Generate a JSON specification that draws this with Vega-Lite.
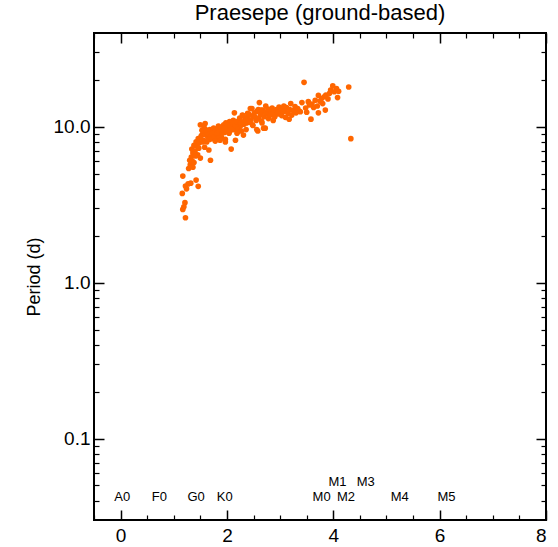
{
  "$schema": "https://vega.github.io/schema/vega-lite/v6.json",
  "width": 452,
  "height": 487,
  "autosize": "none",
  "padding": {"left": 94, "top": 33, "right": 12, "bottom": 27},
  "background": "white",
  "config": {
    "view": {"stroke": "black", "strokeWidth": 2},
    "font": "Liberation Sans",
    "axis": {"grid": false, "domain": false, "tickColor": "black", "labelColor": "black", "titleColor": "black", "labelFont": "Liberation Sans", "titleFont": "Liberation Sans", "titleFontWeight": "normal", "labelFontSize": 19}
  },
  "title": {"text": "Praesepe (ground-based)", "fontSize": 22, "font": "Liberation Sans", "fontWeight": "normal", "color": "black", "offset": 7},
  "datasets": {
    "stars": [
      {"c":1.22,"p":2.61},{"c":1.17,"p":2.95},{"c":1.19,"p":3.07},{"c":1.21,"p":3.26},{"c":1.16,"p":3.74},{"c":1.22,"p":4.17},{"c":1.17,"p":4.83},{"c":1.27,"p":4.3},{"c":1.32,"p":4.35},{"c":1.42,"p":4.55},{"c":1.46,"p":4.15},{"c":1.24,"p":4.0},
      {"c":1.28,"p":5.4},{"c":1.31,"p":5.7},{"c":1.3,"p":6.1},{"c":1.33,"p":6.4},{"c":1.35,"p":6.0},{"c":1.36,"p":6.8},{"c":1.34,"p":7.2},{"c":1.38,"p":7.6},{"c":1.4,"p":7.0},{"c":1.42,"p":8.0},{"c":1.44,"p":7.5},{"c":1.46,"p":8.4},{"c":1.48,"p":7.9},{"c":1.45,"p":6.6},{"c":1.5,"p":10.3},{"c":1.59,"p":10.5},{"c":1.52,"p":8.8},{"c":1.55,"p":9.1},{"c":1.56,"p":8.2},{"c":1.58,"p":7.4},{"c":1.6,"p":8.9},{"c":1.62,"p":9.3},{"c":1.64,"p":8.6},{"c":1.66,"p":7.1},{"c":1.69,"p":6.1},{"c":1.68,"p":9.6},{"c":1.7,"p":9.0},{"c":1.72,"p":8.4},{"c":1.74,"p":9.4},{"c":1.75,"p":9.8},{"c":1.78,"p":9.2},{"c":1.8,"p":8.8},{"c":1.82,"p":9.6},{"c":1.84,"p":10.1},{"c":1.85,"p":9.0},{"c":1.88,"p":9.5},{"c":1.9,"p":8.5},{"c":1.92,"p":9.8},{"c":1.94,"p":10.3},{"c":1.95,"p":9.2},{"c":1.97,"p":8.3},{"c":1.98,"p":10.6},{"c":2.0,"p":9.7},{"c":2.02,"p":10.0},{"c":2.04,"p":9.1},{"c":2.05,"p":10.8},{"c":2.07,"p":9.5},{"c":2.08,"p":7.2},{"c":2.1,"p":10.2},{"c":2.12,"p":11.0},{"c":2.14,"p":12.3},{"c":2.15,"p":9.9},{"c":2.17,"p":10.5},{"c":2.2,"p":9.3},{"c":2.22,"p":10.9},{"c":2.24,"p":11.4},{"c":2.25,"p":10.1},{"c":2.28,"p":10.7},{"c":2.3,"p":11.8},{"c":2.32,"p":10.4},{"c":2.34,"p":11.2},{"c":2.36,"p":9.6},{"c":2.38,"p":11.5},{"c":2.4,"p":10.8},{"c":2.42,"p":12.0},{"c":2.44,"p":13.1},{"c":2.45,"p":11.1},{"c":2.48,"p":10.3},{"c":2.5,"p":11.7},{"c":2.52,"p":12.3},{"c":2.55,"p":11.0},{"c":2.57,"p":12.6},{"c":2.58,"p":9.4},{"c":2.6,"p":11.4},{"c":2.61,"p":14.3},{"c":2.63,"p":12.0},{"c":2.65,"p":10.9},{"c":2.67,"p":12.8},{"c":2.7,"p":11.6},{"c":2.72,"p":9.8},{"c":2.73,"p":13.6},{"c":2.75,"p":12.2},{"c":2.78,"p":11.3},{"c":2.8,"p":12.7},{"c":2.82,"p":11.9},{"c":2.85,"p":13.2},{"c":2.88,"p":12.4},{"c":2.9,"p":11.6},{"c":2.93,"p":12.9},{"c":2.95,"p":12.1},{"c":2.98,"p":13.4},{"c":3.0,"p":12.5},{"c":3.03,"p":11.8},{"c":3.05,"p":13.0},{"c":3.08,"p":12.6},{"c":3.1,"p":11.5},{"c":3.12,"p":13.3},{"c":3.15,"p":12.2},{"c":3.18,"p":12.9},{"c":3.2,"p":14.1},{"c":3.22,"p":11.9},{"c":3.25,"p":12.7},{"c":3.28,"p":13.5},{"c":3.3,"p":12.3},{"c":3.33,"p":13.1},{"c":3.36,"p":12.6},{"c":3.38,"p":12.5},{"c":3.41,"p":14.3},{"c":3.45,"p":19.3},{"c":3.48,"p":13.2},{"c":3.5,"p":12.4},{"c":3.53,"p":14.5},{"c":3.55,"p":13.8},{"c":3.58,"p":11.2},{"c":3.6,"p":14.0},{"c":3.63,"p":13.3},{"c":3.66,"p":14.8},{"c":3.7,"p":13.6},{"c":3.72,"p":15.9},{"c":3.72,"p":12.3},{"c":3.75,"p":14.6},{"c":3.78,"p":15.2},{"c":3.8,"p":14.1},{"c":3.83,"p":15.6},{"c":3.85,"p":12.8},{"c":3.86,"p":16.0},{"c":3.9,"p":15.1},{"c":3.93,"p":16.4},{"c":3.95,"p":17.2},{"c":3.99,"p":18.3},{"c":4.02,"p":16.8},{"c":4.06,"p":17.6},{"c":4.08,"p":15.4},{"c":4.1,"p":16.9},{"c":4.29,"p":18.0},{"c":4.33,"p":8.4},
      {"c":1.62,"p":8.0},{"c":1.65,"p":9.0},{"c":1.7,"p":8.7},{"c":1.73,"p":9.1},{"c":1.76,"p":8.6},{"c":1.79,"p":9.5},{"c":1.81,"p":9.1},{"c":1.83,"p":8.4},{"c":1.86,"p":9.3},{"c":1.89,"p":9.9},{"c":1.91,"p":9.1},{"c":1.93,"p":9.5},{"c":1.96,"p":9.8},{"c":1.99,"p":9.3},{"c":2.01,"p":10.3},{"c":2.03,"p":9.6},{"c":2.06,"p":10.1},{"c":2.09,"p":9.8},{"c":2.11,"p":10.5},{"c":2.13,"p":9.6},{"c":2.16,"p":10.2},{"c":2.18,"p":10.8},{"c":2.21,"p":9.6},{"c":2.26,"p":10.6},{"c":2.29,"p":11.9},{"c":2.33,"p":10.8},{"c":2.37,"p":10.6},{"c":2.39,"p":12.2},{"c":2.43,"p":10.7},{"c":2.49,"p":10.2},{"c":2.53,"p":11.5},{"c":2.59,"p":12.9},{"c":2.66,"p":10.6},{"c":2.71,"p":12.4},{"c":2.77,"p":13.0},{"c":2.87,"p":11.0},{"c":2.96,"p":12.4},{"c":3.07,"p":13.6},{"c":3.17,"p":11.2},{"c":1.55,"p":8.0},{"c":1.5,"p":8.5},{"c":1.47,"p":7.3},{"c":1.41,"p":6.5},{"c":1.38,"p":5.9},{"c":1.36,"p":5.5},{"c":1.53,"p":9.5},{"c":1.57,"p":9.9},{"c":1.6,"p":9.6},{"c":1.67,"p":8.3},{"c":1.78,"p":8.1},{"c":1.87,"p":8.2},{"c":2.19,"p":9.1},{"c":2.27,"p":9.4},
      {"c":1.97,"p":8.0},{"c":2.16,"p":8.2},{"c":2.31,"p":8.85},{"c":2.56,"p":9.6},{"c":2.69,"p":9.8},{"c":1.5,"p":6.3},{"c":2.47,"p":13.1},{"c":2.64,"p":12.8}
    ],
    "sptypes": [
      {"sp":"A0","x":0.03,"y":0.0423},{"sp":"F0","x":0.73,"y":0.0423},{"sp":"G0","x":1.42,"y":0.0423},{"sp":"K0","x":1.96,"y":0.0423},{"sp":"M0","x":3.78,"y":0.0423},{"sp":"M1","x":4.08,"y":0.0527},{"sp":"M2","x":4.24,"y":0.0423},{"sp":"M3","x":4.61,"y":0.0527},{"sp":"M4","x":5.25,"y":0.0423},{"sp":"M5","x":6.13,"y":0.0423}
    ]
  },
  "data": {"name": "stars"},
  "layer": [
    {
      "mark": {"type": "circle", "color": "#FF6600", "opacity": 1, "size": 32},
      "encoding": {
        "x": {"field": "c", "type": "quantitative", "scale": {"domain": [-0.5, 8], "nice": false, "zero": false},
              "axis": {"orient": "bottom", "values": [0, 2, 4, 6, 8], "tickSize": -10, "tickWidth": 1.5, "labelPadding": 16, "title": null}},
        "y": {"field": "p", "type": "quantitative", "scale": {"type": "log", "domain": [0.03, 40], "nice": false},
              "axis": {"orient": "left", "values": [0.1, 1, 10], "format": ".1f", "tickSize": -10, "tickWidth": 1.5, "labelPadding": 14, "title": "Period (d)", "titleFontSize": 18, "titlePadding": 10}}
      }
    },
    {
      "mark": {"type": "point", "opacity": 0},
      "encoding": {
        "x": {"field": "c", "type": "quantitative", "axis": {"orient": "bottom", "values": [-0.5, 0.5, 1, 1.5, 2.5, 3, 3.5, 4.5, 5, 5.5, 6.5, 7, 7.5], "tickSize": -5, "tickWidth": 1.2, "labels": false, "title": null}},
        "y": {"field": "p", "type": "quantitative", "axis": {"orient": "left", "values": [0.04, 0.05, 0.06, 0.07, 0.08, 0.09, 0.2, 0.3, 0.4, 0.5, 0.6, 0.7, 0.8, 0.9, 2, 3, 4, 5, 6, 7, 8, 9, 20, 30], "tickSize": -5, "tickWidth": 1.2, "labels": false, "title": null}}
      }
    },
    {
      "mark": {"type": "point", "opacity": 0},
      "encoding": {
        "x": {"field": "c", "type": "quantitative", "axis": {"orient": "top", "values": [0, 2, 4, 6, 8], "tickSize": -10, "tickWidth": 1.5, "labels": false, "title": null}},
        "y": {"field": "p", "type": "quantitative", "axis": {"orient": "right", "values": [0.1, 1, 10], "tickSize": -10, "tickWidth": 1.5, "labels": false, "title": null}}
      }
    },
    {
      "mark": {"type": "point", "opacity": 0},
      "encoding": {
        "x": {"field": "c", "type": "quantitative", "axis": {"orient": "top", "values": [-0.5, 0.5, 1, 1.5, 2.5, 3, 3.5, 4.5, 5, 5.5, 6.5, 7, 7.5], "tickSize": -5, "tickWidth": 1.2, "labels": false, "title": null}},
        "y": {"field": "p", "type": "quantitative", "axis": {"orient": "right", "values": [0.04, 0.05, 0.06, 0.07, 0.08, 0.09, 0.2, 0.3, 0.4, 0.5, 0.6, 0.7, 0.8, 0.9, 2, 3, 4, 5, 6, 7, 8, 9, 20, 30], "tickSize": -5, "tickWidth": 1.2, "labels": false, "title": null}}
      }
    },
    {
      "data": {"name": "sptypes"},
      "mark": {"type": "text", "fontSize": 13, "font": "Liberation Sans", "color": "black", "align": "center", "baseline": "middle"},
      "encoding": {
        "x": {"field": "x", "type": "quantitative", "axis": null},
        "y": {"field": "y", "type": "quantitative", "axis": null},
        "text": {"field": "sp"}
      }
    }
  ],
  "resolve": {"axis": {"x": "independent", "y": "independent"}}
}
